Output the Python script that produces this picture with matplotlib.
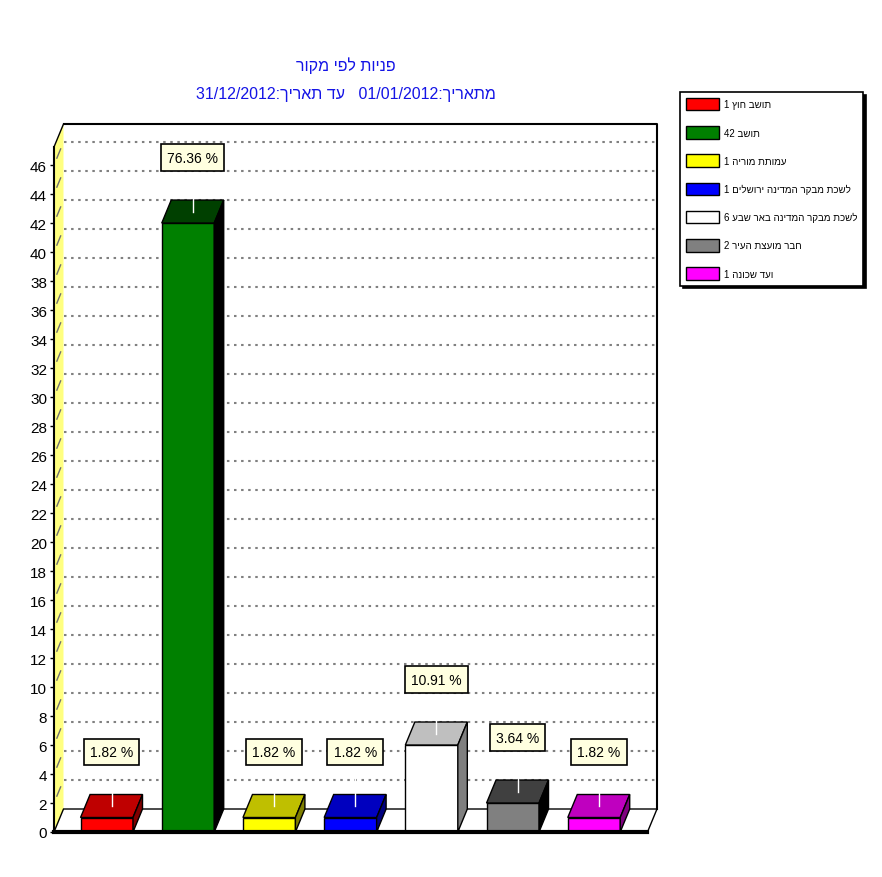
import numpy as np
import matplotlib
matplotlib.use("Agg")
import matplotlib.pyplot as plt
from matplotlib.patches import Polygon, Rectangle, Patch

plt.rcParams['font.family'] = ['Liberation Sans Narrow', 'Liberation Sans', 'DejaVu Sans']
plt.rcParams['font.stretch'] = 'condensed'


def heb(s):
    # matplotlib draws left to right, so Hebrew words are written in visual order
    return s[::-1]


# data
names = ["תושב חוץ", "תושב", "עמותת מוריה", "לשכת מבקר המדינה ירושלים",
         "לשכת מבקר המדינה באר שבע", "חבר מועצת העיר", "ועד שכונה"]
counts = [1, 42, 1, 1, 6, 2, 1]
percents = [1.82, 76.36, 1.82, 1.82, 10.91, 3.64, 1.82]
colors = ["#ff0000", "#008000", "#ffff00", "#0000ff", "#ffffff", "#808080", "#ff00ff"]
yticks = list(range(0, 47, 2))

title1 = heb("פניות לפי מקור")
title2 = "31/12/2012:" + heb("עד תאריך") + "   01/01/2012:" + heb("מתאריך")


def shade(c, amount):
    rgb = np.array(matplotlib.colors.to_rgb(c)) * 255
    return tuple(np.clip(rgb - amount, 0, 255) / 255)


fig = plt.figure(figsize=(8.82, 8.78), dpi=100)
ax = fig.add_axes([54 / 882, 45 / 878, 603 / 882, 708 / 878])

# 3d look
x0, xmax = -0.65, 6.776
ytop = 48.83
dx, dy = 0.117, 1.586
w = 0.323

ax.set_xlim(x0, xmax)
ax.set_ylim(0, ytop)
for s in ax.spines.values():
    s.set_visible(False)
ax.set_xticks([])
ax.set_yticks(yticks)
ax.set_yticklabels([str(t) for t in yticks], fontsize=11)
ax.tick_params(axis='y', length=3, width=1, pad=2)

# left wall
ax.add_patch(Polygon([(x0, 0), (x0 + dx, dy), (x0 + dx, ytop), (x0, ytop - dy)],
                     closed=True, facecolor="#ffff80", edgecolor="none", zorder=1, clip_on=False))
# floor
ax.add_patch(Polygon([(x0, 0), (xmax - dx, 0), (xmax, dy), (x0 + dx, dy)],
                     closed=True, facecolor="white", edgecolor="black", lw=1, zorder=1, clip_on=False))

# gridlines on the walls
for t in yticks[1:]:
    ax.plot([x0 + dx, xmax], [t + dy, t + dy], color="#808080", lw=1.5,
            linestyle=(0, (1.2, 2.2)), zorder=1.5, clip_on=False)
    ax.plot([x0 + dx * 0.3, x0 + dx * 0.7], [t + dy * 0.3, t + dy * 0.7], color="#707070",
            lw=1, zorder=1.5, clip_on=False)

# frame
ax.plot([x0 + dx, xmax, xmax], [ytop, ytop, dy], color="black", lw=1.5, zorder=2, clip_on=False)
ax.plot([x0, x0 + dx], [ytop - dy, ytop], color="black", lw=1, zorder=2, clip_on=False)
ax.plot([x0, x0], [0, ytop - dy], color="black", lw=1.5, zorder=2, clip_on=False)
ax.plot([x0, xmax - dx], [0, 0], color="black", lw=3, zorder=6, clip_on=False)

# bars
for i, (v, c) in enumerate(zip(counts, colors)):
    ax.add_patch(Rectangle((i - w, 0), 2 * w, v, facecolor=c, edgecolor="black",
                           lw=1, zorder=3, clip_on=False))
    ax.add_patch(Polygon([(i - w, v), (i + w, v), (i + w + dx, v + dy), (i - w + dx, v + dy)],
                         closed=True, facecolor=shade(c, 64), edgecolor="black", lw=1,
                         zorder=3, clip_on=False))
    ax.add_patch(Polygon([(i + w, 0), (i + w + dx, dy), (i + w + dx, v + dy), (i + w, v)],
                         closed=True, facecolor=shade(c, 128), edgecolor="black", lw=1,
                         zorder=3, clip_on=False))

# value labels
for i, (v, p) in enumerate(zip(counts, percents)):
    cx, cy = i + dx / 2, v + dy / 2
    ax.plot([cx, cx], [cy, cy + 2.7], color="white", lw=1, zorder=4, clip_on=False)
    ax.text(cx, cy + 3.72, f"{p:.2f} %", ha="center", va="center", fontsize=10, zorder=5,
            bbox=dict(boxstyle="square,pad=0.45", facecolor="#ffffe0", edgecolor="black", lw=1.2))

# titles
fig.text(346 / 882, 1 - 66 / 878, title1, ha="center", va="center", color="#1414e6", fontsize=11.5)
fig.text(346 / 882, 1 - 94 / 878, title2, ha="center", va="center", color="#1414e6", fontsize=11.5)

# legend
handles = [Patch(facecolor=c, edgecolor="black", lw=1) for c in colors]
labels = []
for n, k in zip(names, counts):
    labels.append(f"{k} " + heb(n))
leg = fig.legend(handles, labels, loc="upper left", bbox_to_anchor=(680 / 882, 1 - 93 / 878),
                 borderaxespad=0, fontsize=7.0, handlelength=3.4, handleheight=1.6,
                 labelspacing=1.62, handletextpad=0.5, borderpad=0.6, fancybox=False,
                 shadow={"color": "black", "alpha": 1}, framealpha=1)
leg.get_frame().set_edgecolor("black")
leg.get_frame().set_linewidth(1.2)

fig.savefig("out.png", dpi=100)
